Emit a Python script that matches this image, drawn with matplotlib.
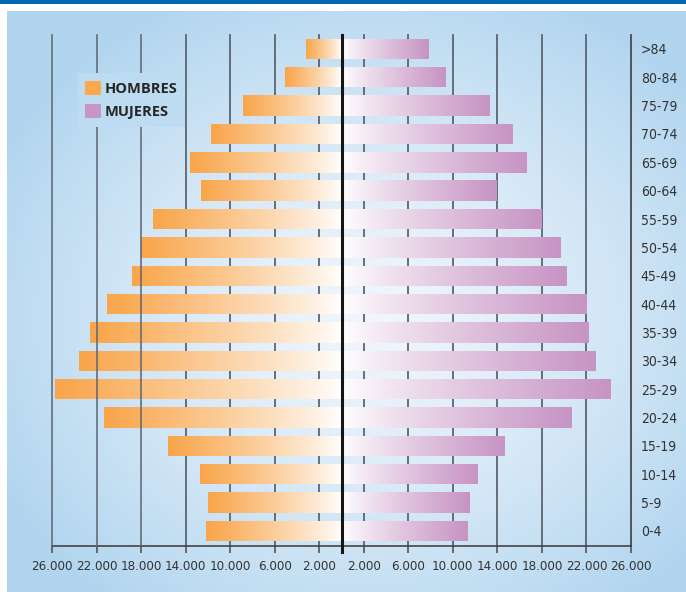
import numpy as np
import matplotlib
matplotlib.use("Agg")
import matplotlib.pyplot as plt
from matplotlib.colors import LinearSegmentedColormap, to_rgb
from matplotlib.patches import Patch, Rectangle
from matplotlib.font_manager import FontProperties

# age groups, bottom to top
grupos = ["0-4", "5-9", "10-14", "15-19", "20-24", "25-29", "30-34", "35-39",
          "40-44", "45-49", "50-54", "55-59", "60-64", "65-69", "70-74",
          "75-79", "80-84", ">84"]
hombres = [12180, 12000, 12720, 15600, 21350, 25750, 23600, 22610, 21080,
           18830, 17980, 16940, 12630, 13620, 11730, 8850, 5080, 3190]
mujeres = [11280, 11460, 12180, 14610, 20630, 24140, 22790, 22160, 21920,
           20180, 19640, 17960, 13920, 16590, 15330, 13260, 9300, 7780]
ticks = [-26000, -22000, -18000, -14000, -10000, -6000, -2000,
         2000, 6000, 10000, 14000, 18000, 22000, 26000]
tick_labels = ["26.000", "22.000", "18.000", "14.000", "10.000", "6.000", "2.000",
               "2.000", "6.000", "10.000", "14.000", "18.000", "22.000", "26.000"]

ORANGE = "#f9a54a"
PURPLE = "#c794c4"

W, H = 686, 592
fig = plt.figure(figsize=(W / 100, H / 100), dpi=100)
fig.patch.set_facecolor("white")

# dark blue band at the top
fig.patches.append(Rectangle((0, 1 - 4 / H), 1, 4 / H, transform=fig.transFigure,
                             facecolor="#0068b0", edgecolor="none"))

# light blue panel with a radial gradient
px0, py0 = 7, 11
bg = fig.add_axes([px0 / W, 0, 1 - px0 / W, (H - py0) / H])
bg.set_axis_off()
xx, yy = np.meshgrid(np.arange(px0, W), np.arange(py0, H))
r = np.sqrt(((xx - 370) / 420.0) ** 2 + ((yy - 320) / 360.0) ** 2)
t = np.clip(r, 0, 1) ** 1.3
c0 = np.array(to_rgb("#f1f6fc"))
c1 = np.array(to_rgb("#b1d5ef"))
img = c0[None, None, :] * (1 - t[..., None]) + c1[None, None, :] * t[..., None]
bg.imshow(img, aspect="auto", extent=[0, 1, 0, 1], origin="upper")
bg.set_xlim(0, 1)
bg.set_ylim(0, 1)

# main axes
left, right, top, bottom = 52, 631, 35, 546
ax = fig.add_axes([left / W, 1 - bottom / H, (right - left) / W, (bottom - top) / H])
ax.patch.set_visible(False)

y = np.arange(len(grupos))
cm_h = LinearSegmentedColormap.from_list("h", ["#ffffff", ORANGE])
cm_m = LinearSegmentedColormap.from_list("m", ["#ffffff", PURPLE])
grad = np.linspace(0, 1, 256) ** 0.85

bars_h = ax.barh(y, [-v for v in hombres], height=0.72, color="none", zorder=2)
bars_m = ax.barh(y, mujeres, height=0.72, color="none", zorder=2)
for b in bars_h:
    x0, y0, w, h = b.get_x(), b.get_y(), b.get_width(), b.get_height()
    im = ax.imshow(grad[::-1][None, :], cmap=cm_h, vmin=0, vmax=1, aspect="auto",
                   extent=[x0 + w, x0, y0, y0 + h], zorder=2)
    im.set_clip_path(b)
for b in bars_m:
    x0, y0, w, h = b.get_x(), b.get_y(), b.get_width(), b.get_height()
    im = ax.imshow(grad[None, :], cmap=cm_m, vmin=0, vmax=1, aspect="auto",
                   extent=[x0, x0 + w, y0, y0 + h], zorder=2)
    im.set_clip_path(b)
ax.set_xlim(-26000, 26000)
ax.set_ylim(-0.53, 17.49)

# grid lines (the outer left ones sit on top of the bars)
for xv in ticks:
    z = 3 if xv <= -18000 else 1
    ax.axvline(xv, color="#5c6570", lw=1.3, alpha=0.85 if z == 3 else 1,
               zorder=z, clip_on=False)
ax.axvline(0, ymin=-0.012, ymax=1, color="#151515", lw=2.2, zorder=4, clip_on=False)

narrow = FontProperties(family="DejaVu Sans", stretch="condensed", size=9.5)
ax.set_xticks(ticks)
ax.set_xticklabels(tick_labels, fontproperties=narrow, color="#333333")
ax.tick_params(axis="x", length=5, width=1.2, color="#555555", pad=5)

ax.yaxis.tick_right()
ax.set_yticks(y)
ax.set_yticklabels(grupos, fontproperties=FontProperties(family="DejaVu Sans",
                   stretch="condensed", size=10), color="#333333")
ax.tick_params(axis="y", length=0, pad=7)

for s in ["top", "left"]:
    ax.spines[s].set_visible(False)
ax.spines["bottom"].set_color("#444444")
ax.spines["bottom"].set_linewidth(1.2)
ax.spines["right"].set_color("#555555")
ax.spines["right"].set_linewidth(1.3)

leg = ax.legend(handles=[Patch(facecolor="#fba94e"), Patch(facecolor="#c896c4")],
                labels=["HOMBRES", "MUJERES"], loc="upper left",
                bbox_to_anchor=(0.045, 0.925), frameon=True, facecolor="#bddbf1",
                edgecolor="none", framealpha=1, fancybox=False,
                handlelength=1.1, handleheight=1.1, handletextpad=0.25,
                labelspacing=0.6, borderpad=0.5, borderaxespad=0,
                prop={"family": "Open Sans", "weight": "bold", "size": 10.5})
for txt in leg.get_texts():
    txt.set_color("#262626")
leg.set_zorder(5)

fig.savefig("out.png", dpi=100)
